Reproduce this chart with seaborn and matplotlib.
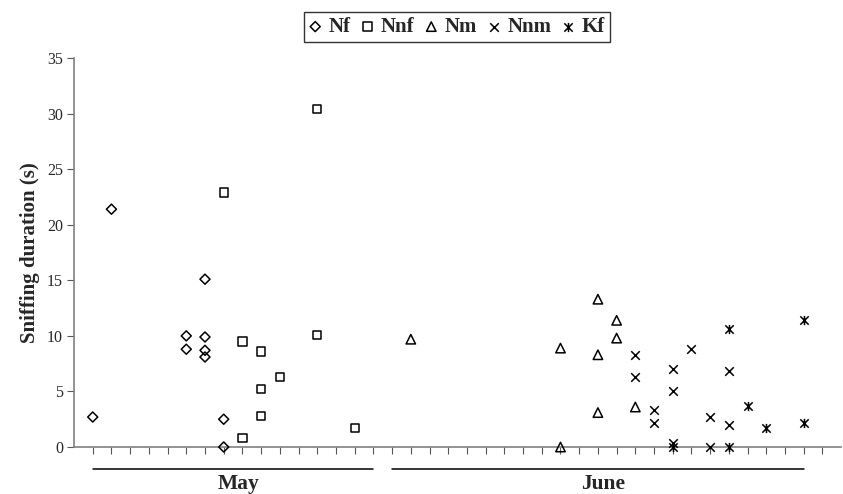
import numpy as np
import matplotlib
matplotlib.use("Agg")
import matplotlib.pyplot as plt
import seaborn as sns
from matplotlib.path import Path

# category positions (observation slots) and sniffing durations per group
nf_x = [1, 2, 6, 6, 7, 7, 7, 7, 8, 8]
nf_y = [2.7, 21.4, 10.0, 8.8, 15.1, 9.9, 8.7, 8.1, 2.5, 0.0]

nnf_x = [8, 9, 9, 10, 10, 10, 11, 13, 13, 15]
nnf_y = [22.9, 9.5, 0.8, 8.6, 5.2, 2.8, 6.3, 30.4, 10.1, 1.7]

nm_x = [18, 26, 26, 28, 28, 28, 29, 29, 30]
nm_y = [9.7, 8.9, 0.0, 13.3, 8.3, 3.1, 11.4, 9.8, 3.6]

nnm_x = [30, 30, 31, 31, 32, 32, 32, 33, 34, 34, 35, 35]
nnm_y = [8.3, 6.3, 3.3, 2.2, 7.0, 5.0, 0.4, 8.8, 2.7, 0.0, 6.8, 2.0]

kf_x = [32, 35, 35, 36, 37, 39, 39]
kf_y = [0.0, 10.6, 0.0, 3.7, 1.7, 11.4, 2.2]

months = ["May", "June"]
month_spans = [(1, 16), (17, 39)]

sns.set_theme(style="white")
plt.rcParams["font.family"] = ["Liberation Serif", "DejaVu Serif"]

# six-armed star like the spreadsheet marker
star = Path(
    [(-1, -1), (1, 1), (-1, 1), (1, -1), (0, -1.1), (0, 1.1)],
    [Path.MOVETO, Path.LINETO, Path.MOVETO, Path.LINETO, Path.MOVETO, Path.LINETO],
)

fig = plt.figure(figsize=(8.43, 4.94), dpi=100)
ax = fig.add_axes([0.0878, 0.0951, 0.910, 0.7874])

series = [
    ("Nf", nf_x, nf_y, "D", 26, True),
    ("Nnf", nnf_x, nnf_y, "s", 36, True),
    ("Nm", nm_x, nm_y, "^", 46, True),
    ("Nnm", nnm_x, nnm_y, "x", 38, False),
    ("Kf", kf_x, kf_y, star, 44, False),
]
for name, xs, ys, mk, size, hollow in series:
    if hollow:
        sns.scatterplot(x=xs, y=ys, marker=mk, s=size, facecolor="none",
                        edgecolor="black", linewidth=1.1, label=name, ax=ax,
                        clip_on=False, zorder=3)
    else:
        sns.scatterplot(x=xs, y=ys, marker=mk, s=size, color="black",
                        edgecolor="black", linewidth=1.1, label=name, ax=ax,
                        clip_on=False, zorder=3)

ax.set_xlim(0, 41)
ax.set_ylim(0, 35)
ax.set_yticks(np.arange(0, 36, 5))
ax.set_xticks(np.arange(1, 41))
ax.set_xticklabels([])
ax.tick_params(axis="x", direction="out", length=5, width=0.8, color="#555555",
               bottom=True, pad=2)
ax.tick_params(axis="y", direction="out", length=5, width=0.8, color="#555555",
               left=True, labelsize=11.5, pad=3)
for side in ["top", "right"]:
    ax.spines[side].set_visible(False)
for side in ["left", "bottom"]:
    ax.spines[side].set_color("#808080")
    ax.spines[side].set_linewidth(1.2)

ax.set_ylabel("Sniffing duration (s)", fontsize=15, fontweight="bold", labelpad=5)

trans = ax.get_xaxis_transform()
for label, (a, b) in zip(months, month_spans):
    ax.plot([a, b], [-0.056, -0.056], color="black", linewidth=1.1,
            transform=trans, clip_on=False)
    ax.text((a + b) / 2 + 0.3, -0.094, label, transform=trans, ha="center",
            va="center", fontsize=15.5, fontweight="bold")

ax.get_legend().remove()
handles, labels = ax.get_legend_handles_labels()
leg = fig.legend(handles, labels, loc="upper center", bbox_to_anchor=(0.542, 0.976),
                 ncol=5, frameon=True, fancybox=False, handlelength=0.6,
                 handletextpad=0.35, columnspacing=0.5, borderpad=0.25,
                 borderaxespad=0, prop={"weight": "bold", "size": 15})
leg.get_frame().set_edgecolor("black")
leg.get_frame().set_linewidth(1.0)

fig.savefig("out.png", dpi=100)
